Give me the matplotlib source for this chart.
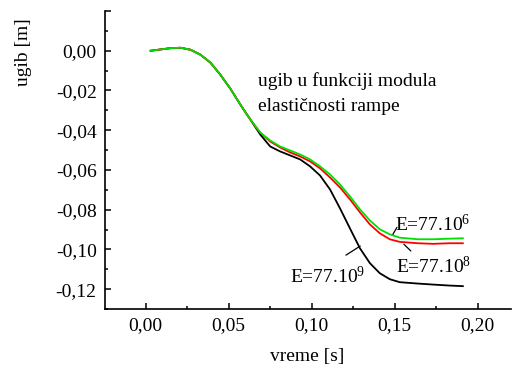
import numpy as np
import matplotlib.pyplot as plt
from matplotlib.ticker import FuncFormatter, MultipleLocator

# vreme [s]
t = [0.003, 0.015, 0.021, 0.027, 0.033, 0.039, 0.045, 0.051, 0.057, 0.063,
     0.069, 0.075, 0.081, 0.087, 0.093, 0.099, 0.105, 0.111, 0.117, 0.123,
     0.129, 0.135, 0.141, 0.147, 0.153, 0.164, 0.173, 0.183, 0.191]

# ugib [m] for three values of E
ugib_e6 = [0.0, 0.0013, 0.0015, 0.0005, -0.0020, -0.0060, -0.0121, -0.0191, -0.0271, -0.0346,
           -0.0412, -0.0452, -0.0482, -0.0502, -0.0522, -0.0547, -0.0582, -0.0623, -0.0673, -0.0733,
           -0.0798, -0.0854, -0.0899, -0.0924, -0.0941, -0.0949, -0.0949, -0.0946, -0.0944]
ugib_e8 = [0.0, 0.0013, 0.0015, 0.0005, -0.0020, -0.0060, -0.0121, -0.0191, -0.0271, -0.0346,
           -0.0412, -0.0457, -0.0487, -0.0512, -0.0532, -0.0557, -0.0592, -0.0638, -0.0688, -0.0748,
           -0.0813, -0.0874, -0.0919, -0.0949, -0.0962, -0.0969, -0.0972, -0.0969, -0.0969]
ugib_e9 = [0.0, 0.0013, 0.0015, 0.0005, -0.0020, -0.0060, -0.0121, -0.0191, -0.0271, -0.0346,
           -0.0422, -0.0482, -0.0507, -0.0527, -0.0547, -0.0582, -0.0628, -0.0698, -0.0793, -0.0894,
           -0.0994, -0.1069, -0.1120, -0.1150, -0.1165, -0.1172, -0.1177, -0.1182, -0.1185]

plt.rcParams['font.family'] = ['Liberation Serif', 'DejaVu Serif']
plt.rcParams['mathtext.fontset'] = 'custom'
plt.rcParams['mathtext.rm'] = 'Liberation Serif'
plt.rcParams['mathtext.it'] = 'Liberation Serif'


def comma(v):
    s = f"{v:.2f}".replace('.', ',')
    return '0,00' if s == '-0,00' else s


def x_fmt(v, pos):
    return comma(v)


def y_fmt(v, pos):
    # top end of the axis carries a tick but no label
    return '' if v > 0.001 else comma(v)


fig = plt.figure(figsize=(5.12, 3.66), dpi=100)
ax = fig.add_axes([105 / 512, 1 - 309 / 366, 406 / 512, 298 / 366])

ax.plot(t, ugib_e9, color='black', lw=1.3)
ax.plot(t, ugib_e8, color='#ff0000', lw=1.3)
ax.plot(t, ugib_e6, color='#00e000', lw=1.3)

ax.set_xlim(-0.0245, 0.22)
ax.set_ylim(-0.13, 0.02)
ax.xaxis.set_major_locator(MultipleLocator(0.05))
ax.xaxis.set_minor_locator(MultipleLocator(0.025))
ax.yaxis.set_major_locator(MultipleLocator(0.02))
ax.yaxis.set_minor_locator(MultipleLocator(0.01))
ax.xaxis.set_major_formatter(FuncFormatter(x_fmt))
ax.yaxis.set_major_formatter(FuncFormatter(y_fmt))

for s in ['top', 'right']:
    ax.spines[s].set_visible(False)
for s in ['left', 'bottom']:
    ax.spines[s].set_linewidth(1.2)
ax.tick_params(which='major', direction='in', length=4, width=1.1, labelsize=14, pad=6)
ax.tick_params(which='minor', direction='in', length=2.5, width=1.1)

ax.text(0.0678, -0.0179, 'ugib u funkciji modula', fontsize=14, va='baseline')
ax.text(0.0678, -0.0305, 'elastičnosti rampe', fontsize=14, va='baseline')

ax.text(0.1503, -0.0907, 'E=77.10$^{6}$', fontsize=14, va='baseline')
ax.text(0.1507, -0.1121, 'E=77.10$^{8}$', fontsize=14, va='baseline')
ax.text(0.0870, -0.1170, 'E=77.10$^{9}$', fontsize=14, va='baseline')

lead = dict(arrowstyle='-', color='black', lw=0.9, shrinkA=0, shrinkB=0)
ax.annotate('', xy=(0.1513, -0.0889), xytext=(0.1489, -0.0924), arrowprops=lead)
ax.annotate('', xy=(0.1555, -0.0974), xytext=(0.1597, -0.1008), arrowprops=lead)
ax.annotate('', xy=(0.1292, -0.0983), xytext=(0.1206, -0.1029), arrowprops=lead)

fig.text(24 / 512, 1 - 52 / 366, 'ugib [m]', rotation=90, fontsize=14, ha='center', va='center')
fig.text(307 / 512, 1 - 356 / 366, 'vreme [s]', fontsize=14, ha='center', va='center')

fig.savefig('out.png', dpi=100)
